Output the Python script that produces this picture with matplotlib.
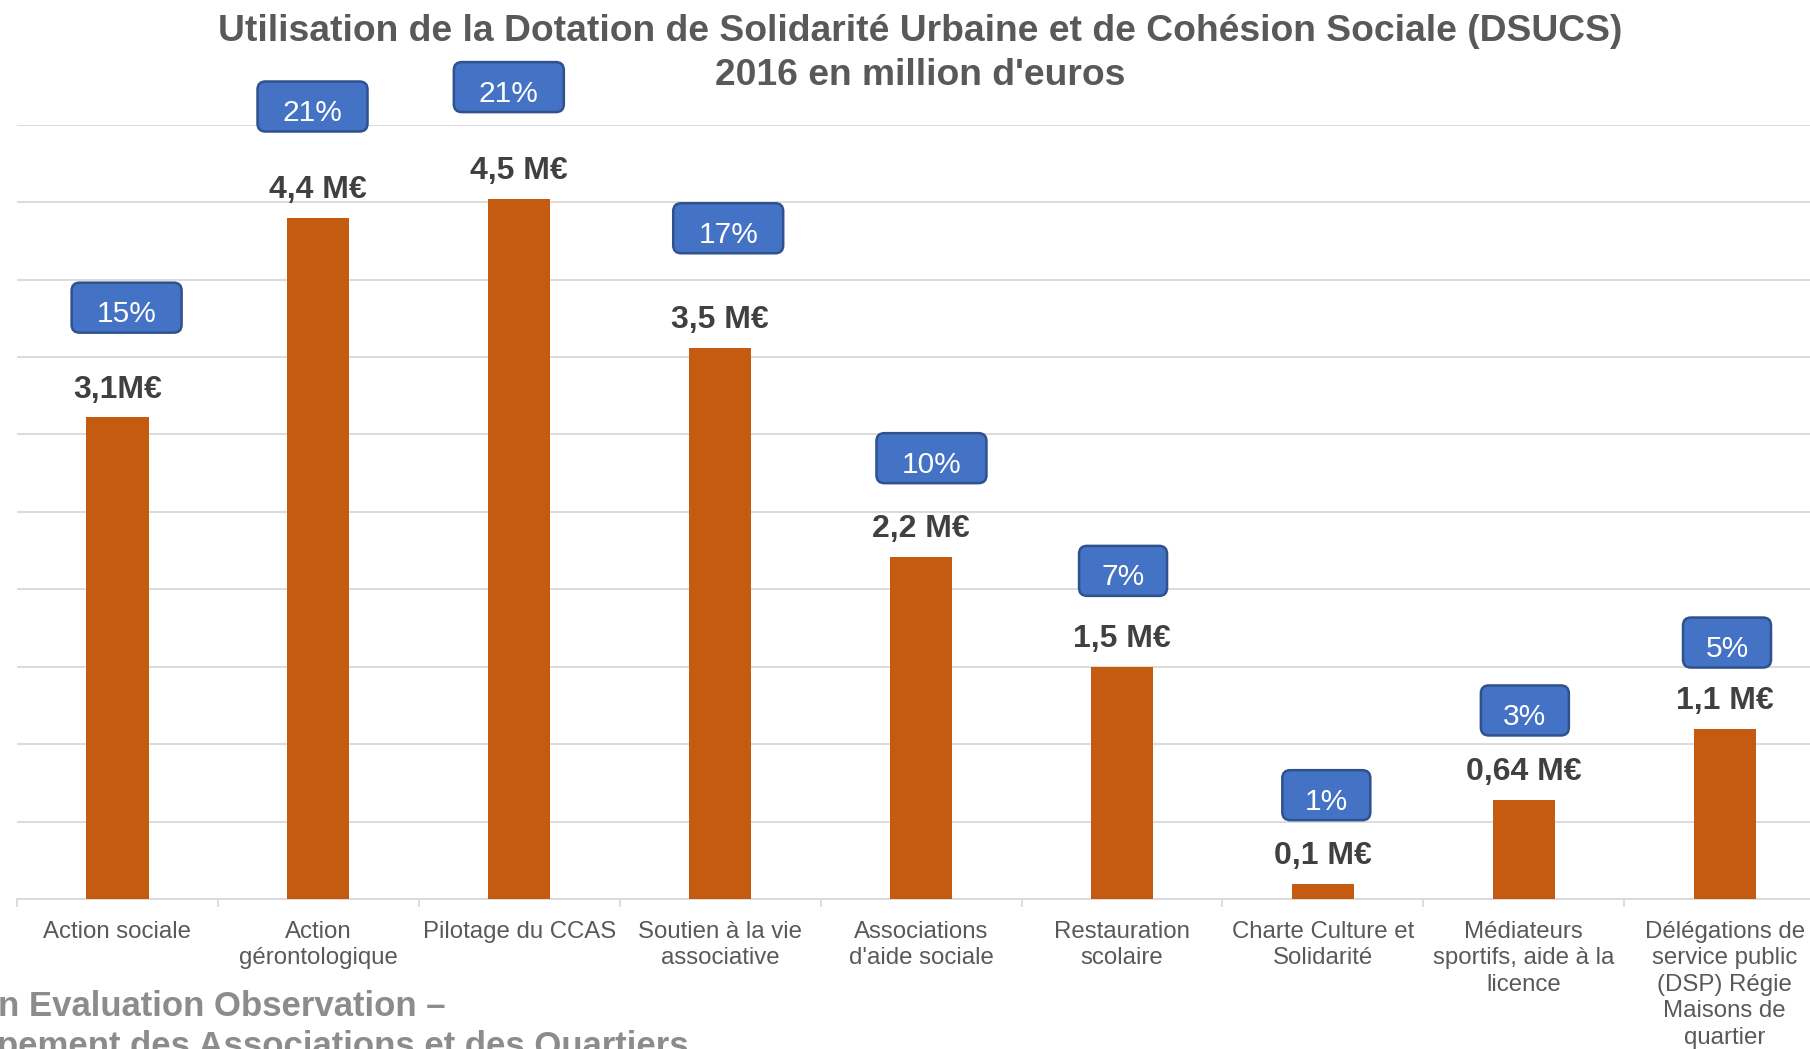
import matplotlib.pyplot as plt
import matplotlib.transforms as mtransforms
from matplotlib.patches import FancyBboxPatch

plt.rcParams['font.family'] = ['Liberation Sans', 'DejaVu Sans']

# donnees (millions d'euros)
categories = ["Action sociale", "Action\ngérontologique", "Pilotage du CCAS",
              "Soutien à la vie\nassociative", "Associations\nd'aide sociale",
              "Restauration\nscolaire", "Charte Culture et\nSolidarité",
              "Médiateurs\nsportifs, aide à la\nlicence",
              "Délégations de\nservice public\n(DSP) Régie\nMaisons de\nquartier"]
montants = [3.11, 4.40, 4.52, 3.56, 2.21, 1.50, 0.10, 0.64, 1.10]
etiquettes = ["3,1M€", "4,4 M€", "4,5 M€", "3,5 M€", "2,2 M€", "1,5 M€",
              "0,1 M€", "0,64 M€", "1,1 M€"]
parts = ["15%", "21%", "21%", "17%", "10%", "7%", "1%", "3%", "5%"]

# decalage des pastilles bleues (en points, au dessus du haut de la barre)
dx_pct = [6.6, -4.2, -7.5, 5.8, 7.5, 0.8, 2.5, 0.8, 1.7]
dy_pct = [79, 80, 80.6, 86, 71, 69, 63.6, 64.4, 62]

W, H = 1810, 1049
fig = plt.figure(figsize=(W/100, H/100), dpi=100)
ax = fig.add_axes([17/W, 150/H, 9*200.9/W, (899-124.7)/H])

x = list(range(len(categories)))
ax.bar(x, montants, width=0.31, color='#C55A11', zorder=3)

ax.set_ylim(0, 5)
ax.set_xlim(-0.5, len(categories)-0.5)
ax.set_yticks([i*0.5 for i in range(11)])
ax.yaxis.grid(True, color='#d9d9d9', lw=1.3, zorder=0)
ax.tick_params(axis='y', length=0, labelleft=False)
for s in ['top', 'left', 'right']:
    ax.spines[s].set_visible(False)
ax.spines['bottom'].set_color('#d9d9d9')
ax.spines['bottom'].set_linewidth(1.3)

ax.set_xticks(x)
ax.set_xticklabels(categories, fontsize=17.3, color='#595959', linespacing=1.27, va='top')
ax.tick_params(axis='x', which='major', length=0, pad=15.5)
ax.set_xticks([i-0.5 for i in range(len(categories)+1)], minor=True)
ax.tick_params(axis='x', which='minor', length=6, width=1.3, color='#d9d9d9')

for i in x:
    ax.annotate(etiquettes[i], (i, montants[i]), xytext=(0, 20), textcoords='offset points',
                ha='center', va='center', fontsize=23, fontweight='bold', color='#404040')
    # pastille bleue arrondie
    trans = fig.dpi_scale_trans + mtransforms.ScaledTranslation(i, montants[i], ax.transData)
    larg = 0.66 + 0.22*(len(parts[i])-1)
    cx = dx_pct[i]/72
    cy = dy_pct[i]/72
    box = FancyBboxPatch((cx - larg/2, cy - 0.25), larg, 0.5,
                         boxstyle='round,pad=0,rounding_size=0.08',
                         transform=trans, facecolor='#4472C4', edgecolor='#2F528F',
                         lw=1.8, zorder=5, clip_on=False)
    ax.add_patch(box)
    ax.text(cx, cy - 0.065, parts[i], transform=trans, ha='center', va='center',
            fontsize=21.5, color='white', zorder=6)

fig.text(920/W, 1 - 31.5/H, "Utilisation de la Dotation de Solidarité Urbaine et de Cohésion Sociale (DSUCS)",
         ha='center', va='center', fontsize=26.8, fontweight='bold', color='#595959')
fig.text(920/W, 1 - 75.5/H, "2016 en million d'euros",
         ha='center', va='center', fontsize=26.8, fontweight='bold', color='#595959')

fig.text(-2/W, 1 - 1006.5/H, "n Evaluation Observation –", ha='left', va='center',
         fontsize=25, fontweight='bold', color='#8c8c8c')
fig.text(-3/W, 1 - 1046.5/H, "pement des Associations et des Quartiers", ha='left', va='center',
         fontsize=25, fontweight='bold', color='#8c8c8c')

fig.savefig('out.png', dpi=100)
